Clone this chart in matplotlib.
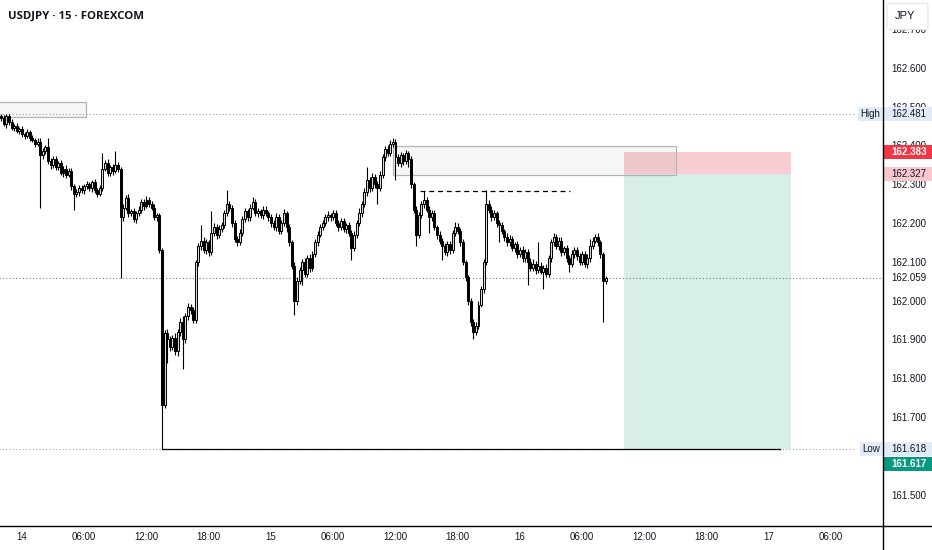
import numpy as np
import matplotlib
matplotlib.use("Agg")
import matplotlib.pyplot as plt
from matplotlib.patches import Rectangle, FancyBboxPatch
from matplotlib.lines import Line2D
from matplotlib.transforms import blended_transform_factory

# ---------------- data ----------------
title = "USDJPY · 15 · FOREXCOM"
first_open = 162.475
bar_start_hour = -2.0      # first bar: 13th, 22:00
bar_hours = 0.25           # 15-minute bars

close = [
    162.470, 162.455, 162.475, 162.460, 162.445, 162.450, 162.438, 162.442, 162.430, 162.425,
    162.435, 162.420, 162.415, 162.405, 162.410, 162.375, 162.385, 162.395, 162.360, 162.350,
    162.365, 162.345, 162.355, 162.330, 162.340, 162.325, 162.335, 162.295, 162.275, 162.280,
    162.290, 162.285, 162.295, 162.300, 162.290, 162.305, 162.285, 162.275, 162.290, 162.340,
    162.355, 162.330, 162.345, 162.335, 162.350, 162.340, 162.215, 162.240, 162.265, 162.225,
    162.230, 162.210, 162.225, 162.235, 162.255, 162.245, 162.260, 162.250, 162.240, 162.215,
    162.220, 162.130, 161.731, 161.917, 161.900, 161.880, 161.905, 161.870, 161.920, 161.945,
    161.900, 161.960, 161.985, 161.975, 161.950, 162.100, 162.140, 162.155, 162.130, 162.150,
    162.125, 162.175, 162.190, 162.170, 162.185, 162.195, 162.225, 162.250, 162.240, 162.200,
    162.160, 162.150, 162.175, 162.210, 162.230, 162.215, 162.240, 162.255, 162.225, 162.230,
    162.220, 162.235, 162.225, 162.215, 162.200, 162.190, 162.215, 162.180, 162.200, 162.225,
    162.190, 162.150, 162.090, 162.000, 162.050, 162.080, 162.100, 162.070, 162.110, 162.085,
    162.120, 162.150, 162.170, 162.190, 162.200, 162.215, 162.220, 162.215, 162.225, 162.200,
    162.190, 162.205, 162.185, 162.195, 162.175, 162.135, 162.170, 162.200, 162.225, 162.250,
    162.280, 162.310, 162.290, 162.320, 162.300, 162.290, 162.325, 162.370, 162.390, 162.380,
    162.405, 162.410, 162.370, 162.355, 162.375, 162.360, 162.380, 162.365, 162.300, 162.235,
    162.170, 162.220, 162.250, 162.260, 162.235, 162.215, 162.225, 162.190, 162.170, 162.155,
    162.140, 162.125, 162.145, 162.130, 162.175, 162.190, 162.180, 162.150, 162.100, 162.060,
    162.000, 161.945, 161.920, 161.935, 161.990, 162.030, 162.100, 162.250, 162.235, 162.215,
    162.225, 162.200, 162.195, 162.180, 162.165, 162.150, 162.160, 162.135, 162.145, 162.120,
    162.130, 162.110, 162.125, 162.100, 162.085, 162.095, 162.080, 162.090, 162.075, 162.085,
    162.070, 162.110, 162.150, 162.165, 162.140, 162.155, 162.125, 162.135, 162.110, 162.095,
    162.120, 162.130, 162.115, 162.100, 162.120, 162.095, 162.110, 162.140, 162.155, 162.165,
    162.150, 162.120, 162.050, 162.059,
]

# wick lengths above / below the body, in thousandths of a yen
upper_wick = [
    6, 8, 5, 7, 9, 6, 8, 5, 7, 6, 8, 6, 7, 5, 9, 10, 8, 6, 25, 8,
    7, 9, 6, 8, 7, 10, 6, 8, 5, 9, 7, 8, 6, 9, 7, 5, 8, 6, 9, 40,
    8, 10, 6, 7, 35, 8, 5, 9, 7, 10, 6, 8, 7, 9, 6, 8, 10, 7, 6, 8,
    7, 5, 5, 8, 10, 9, 6, 12, 8, 10, 15, 8, 9, 6, 10, 5, 9, 40, 8, 10,
    7, 55, 9, 8, 10, 7, 9, 35, 8, 6, 9, 7, 10, 8, 9, 7, 10, 12, 8, 9,
    7, 10, 8, 6, 9, 7, 10, 8, 9, 12, 7, 8, 6, 9, 10, 8, 7, 9, 8, 10,
    9, 8, 10, 7, 9, 8, 12, 7, 10, 9, 8, 7, 9, 6, 8, 7, 10, 9, 15, 8,
    10, 35, 8, 9, 7, 8, 10, 9, 8, 10, 9, 10, 8, 7, 9, 6, 8, 7, 8, 6,
    10, 9, 8, 23, 7, 9, 8, 10, 6, 9, 7, 8, 10, 9, 8, 12, 9, 7, 8, 6,
    7, 8, 9, 10, 8, 9, 7, 35, 9, 8, 10, 7, 9, 8, 6, 9, 10, 8, 7, 9,
    8, 10, 9, 7, 9, 12, 8, 60, 9, 8, 10, 9, 8, 10, 7, 9, 8, 7, 9, 8,
    10, 9, 8, 7, 9, 8, 10, 20, 9, 8, 10, 7, 6, 5,
]
lower_wick = [
    8, 6, 9, 7, 5, 8, 6, 9, 7, 8, 6, 9, 7, 8, 6, 136, 9, 7, 8, 10,
    8, 7, 9, 6, 10, 8, 7, 9, 40, 8, 10, 7, 9, 6, 8, 10, 7, 9, 6, 8,
    7, 9, 8, 10, 6, 8, 157, 9, 7, 10, 8, 6, 9, 7, 8, 10, 6, 9, 7, 8,
    9, 8, 114, 7, 60, 10, 8, 9, 12, 10, 75, 8, 10, 9, 7, 8, 10, 9, 8, 10,
    9, 8, 7, 10, 8, 9, 7, 8, 10, 9, 8, 10, 7, 9, 8, 10, 9, 7, 8, 10,
    8, 9, 7, 10, 9, 8, 10, 7, 9, 8, 12, 10, 9, 37, 10, 8, 40, 9, 8, 10,
    9, 8, 10, 7, 9, 8, 10, 9, 8, 7, 10, 9, 8, 10, 9, 30, 8, 9, 7, 10,
    8, 9, 10, 7, 9, 40, 8, 10, 9, 7, 8, 9, 60, 8, 10, 9, 7, 20, 9, 8,
    30, 9, 8, 10, 7, 40, 9, 8, 10, 9, 35, 8, 10, 9, 8, 7, 9, 10, 8, 9,
    10, 9, 20, 8, 9, 7, 10, 8, 9, 10, 8, 9, 45, 8, 10, 9, 8, 7, 9, 10,
    8, 9, 10, 60, 9, 8, 10, 9, 7, 45, 8, 10, 9, 8, 7, 9, 10, 8, 9, 20,
    8, 9, 10, 7, 9, 8, 10, 9, 8, 7, 9, 10, 105, 8,
]

time_ticks = [0, 6, 12, 18, 24, 30, 36, 42, 48, 54, 60, 66, 72, 78]
time_labels = ["14", "06:00", "12:00", "18:00", "15", "06:00", "12:00", "18:00",
               "16", "06:00", "12:00", "18:00", "17", "06:00"]
# 161.600 is hidden behind the Low / target labels in the reference
price_ticks = [161.5, 161.7, 161.8, 161.9, 162.0, 162.1, 162.2,
               162.3, 162.4, 162.5, 162.6, 162.7]

high_level = 162.481
low_level = 161.618
last_price = 162.059
pos_entry = 162.327
pos_stop = 162.383
pos_target = 161.617
pos_hours = (58.0, 74.1)
zone1 = (-3.0, 6.2, 162.474, 162.512)
zone2 = (35.8, 63.0, 162.324, 162.399)
swing_level = 162.283
swing_hours = (38.4, 52.8)
low_ray_hours = (13.5, 73.1)
level_line_end = 80.3

assert len(close) == len(upper_wick) == len(lower_wick)

# ---------------- figure ----------------
W, H = 932, 550
fig = plt.figure(figsize=(W / 100, H / 100), dpi=100)
fig.patch.set_facecolor("white")
ax_bottom_px = 24
plot_right_px = 883
ax = fig.add_axes([0, ax_bottom_px / H, plot_right_px / W, 1 - ax_bottom_px / H])
ax.set_facecolor("white")
ymin, ymax = 161.4193, 162.775
ax.set_ylim(ymin, ymax)
ax.set_xlim(-2.12, 82.99)
for s in ax.spines.values():
    s.set_visible(False)

# candles
n = len(close)
t = bar_start_hour + bar_hours * np.arange(n)
c = np.array(close)
o = np.concatenate([[first_open], c[:-1]])
body_top = np.maximum(o, c)
body_bot = np.minimum(o, c)
hi = body_top + np.array(upper_wick) / 1000.0
lo = body_bot - np.array(lower_wick) / 1000.0
up = c >= o
ax.vlines(t, lo, hi, color="black", lw=0.8, zorder=4)
heights = np.maximum(body_top - body_bot, 0.002)
ax.bar(t[up], heights[up], bottom=body_bot[up], width=0.19,
       facecolor="#d8d8d8", edgecolor="black", lw=0.7, zorder=5)
ax.bar(t[~up], heights[~up], bottom=body_bot[~up], width=0.19,
       facecolor="black", edgecolor="black", lw=0.7, zorder=5)

# position tool
ax.add_patch(Rectangle((pos_hours[0], pos_entry), pos_hours[1] - pos_hours[0],
                       pos_stop - pos_entry, facecolor="#f8cdd1", edgecolor="none", zorder=1))
ax.add_patch(Rectangle((pos_hours[0], pos_target), pos_hours[1] - pos_hours[0],
                       pos_entry - pos_target, facecolor="#d8eee8", edgecolor="none", zorder=1))

# zones
for z in (zone1, zone2):
    ax.add_patch(Rectangle((z[0], z[2]), z[1] - z[0], z[3] - z[2],
                           facecolor=(0.55, 0.55, 0.55, 0.07), edgecolor="#b4b4b4",
                           lw=0.9, zorder=2))

# level lines
dot = (0, (1, 2))
ax.plot([-3, level_line_end], [high_level] * 2, color="#9a9ea8", lw=0.8, ls=dot, zorder=2)
ax.plot([-3, level_line_end], [low_level] * 2, color="#9a9ea8", lw=0.8, ls=dot, zorder=2)
ax.plot([-3, 90], [last_price] * 2, color="#7c7898", lw=0.8, ls=dot, zorder=2)
ax.plot(low_ray_hours, [low_level] * 2, color="black", lw=0.9, zorder=3)
ax.plot(swing_hours, [swing_level] * 2, color="black", lw=0.9, ls=(0, (4, 3)), zorder=3)

# axes ticks
ax.yaxis.tick_right()
ax.set_yticks(price_ticks)
ax.set_yticklabels([f"{p:.3f}" for p in price_ticks])
ax.tick_params(axis="y", length=0, pad=5.8, labelsize=7, labelcolor="#131722")
for lbl in ax.get_yticklabels():
    lbl.set_fontfamily("Liberation Sans")
    lbl.set_horizontalalignment("left")
ax.set_xticks(time_ticks)
ax.set_xticklabels(time_labels)
ax.tick_params(axis="x", length=0, pad=4.5, labelsize=7, labelcolor="#131722")
for lbl in ax.get_xticklabels():
    lbl.set_fontfamily("Liberation Sans")

# frame lines
fig.add_artist(Line2D([0, 1], [ax_bottom_px / H] * 2, transform=fig.transFigure,
                      color="black", lw=1.0, zorder=10))
fig.add_artist(Line2D([plot_right_px / W] * 2, [0, 1], transform=fig.transFigure,
                      color="black", lw=1.0, zorder=10))

# right-side labels
tr = blended_transform_factory(fig.transFigure, ax.transData)
per_px = (ymax - ymin) / (H - ax_bottom_px)


def price_box(price, text, face, tcolor, x0=884, x1=932, h=14, bold=False,
              ha="left", tx=891, shift_px=0):
    yc = price - shift_px * per_px
    fig.add_artist(Rectangle((x0 / W, yc - h * per_px / 2), (x1 - x0) / W, h * per_px,
                             transform=tr, facecolor=face, edgecolor="none", zorder=6))
    fig.text(tx / W, yc, text, transform=tr, ha=ha, va="center", fontsize=7,
             color=tcolor, family="Liberation Sans",
             fontweight="bold" if bold else "normal", zorder=7)


price_box(high_level, "162.481", "#e2ecf8", "#131722")
price_box(high_level, "High", "#e2ecf8", "#131722", x0=858, x1=882, ha="center", tx=870)
price_box(low_level, "161.618", "#e2ecf8", "#131722")
price_box(low_level, "Low", "#e2ecf8", "#131722", x0=860, x1=882, ha="center", tx=871)
price_box(pos_target, "161.617", "#089981", "white", bold=True, shift_px=15)
price_box(pos_stop, "162.383", "#f23645", "white", bold=True)
price_box(pos_entry, "162.327", "#f8c8cc", "#131722")
price_box(last_price, "162.059", "white", "#131722")

# JPY box
fig.add_artist(FancyBboxPatch((887 / W, 1 - 29.5 / H), 41 / W, 26 / H,
                              boxstyle="round,pad=0,rounding_size=0.004",
                              transform=fig.transFigure, facecolor="white",
                              edgecolor="#e0e3eb", lw=0.8, zorder=8))
fig.text(905 / W, 1 - 16 / H, "JPY", ha="center", va="center", fontsize=8,
         color="#131722", family="Liberation Sans", zorder=9)

# title
fig.text(8 / W, 1 - 16 / H, title, ha="left", va="center", fontsize=8.2,
         fontweight="bold", family="Open Sans", color="#131722", zorder=9)

fig.savefig("out.png", dpi=100, facecolor="white")
